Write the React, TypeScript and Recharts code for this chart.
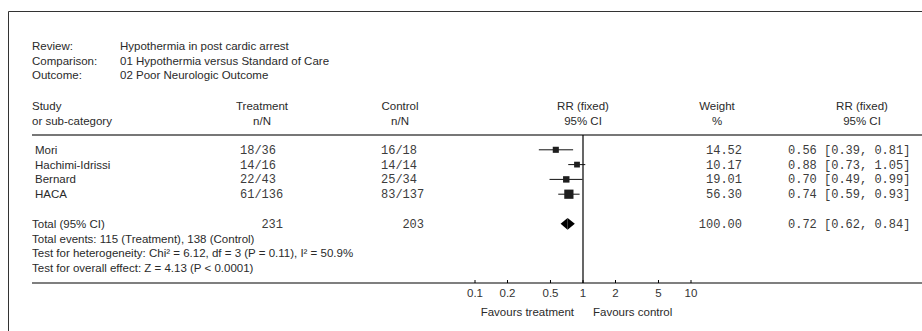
import {
  ComposedChart,
  ErrorBar,
  ReferenceArea,
  ReferenceLine,
  Scatter,
  XAxis,
  YAxis,
} from 'recharts'

const SANS = '"Liberation Sans", Arial, sans-serif'
const MONO = '"Liberation Mono", "Courier New", monospace'
const TEXT = '#2a2a2a'
const MONO_TEXT = '#3c3c3c'
const FS = 11.5

// study level data (RevMan output)
const studies = ['Mori', 'Hachimi-Idrissi', 'Bernard', 'HACA']
const treatmentEvents = [18, 14, 22, 61]
const treatmentTotals = [36, 16, 43, 136]
const controlEvents = [16, 14, 25, 83]
const controlTotals = [18, 14, 34, 137]
const weights = [14.52, 10.17, 19.01, 56.3]
const riskRatios = [0.56, 0.88, 0.7, 0.74]
const ciLower = [0.39, 0.73, 0.49, 0.59]
const ciUpper = [0.81, 1.05, 0.99, 0.93]
const studyRows = [1, 2, 3, 4]

// pooled estimate
const pooledRR = 0.72
const pooledLower = 0.62
const pooledUpper = 0.84
const pooledWeight = 100
const totalRow = 6

const notes = [
  'Total events: 115 (Treatment), 138 (Control)',
  'Test for heterogeneity: Chi² = 6.12, df = 3 (P = 0.11), I² = 50.9%',
  'Test for overall effect: Z = 4.13 (P < 0.0001)',
]
const noteRows = [7, 8, 9]

const xTicks = [0.1, 0.2, 0.5, 1, 2, 5, 10]

// axis spans the full table width, 108px per decade with 1 at x=583
const PX_PER_DECADE = 108
const PLOT_LEFT = 32
const ONE_X = 583
const WIDTH = 922
const HEIGHT = 331
const xDomain = [
  Math.pow(10, (PLOT_LEFT - ONE_X) / PX_PER_DECADE),
  Math.pow(10, (WIDTH - ONE_X) / PX_PER_DECADE),
]

const sum = (a: number[]) => a.reduce((s, v) => s + v, 0)
const fmtCI = (rr: number, lo: number, hi: number) =>
  `${rr.toFixed(2)} [${lo.toFixed(2)}, ${hi.toFixed(2)}]`

const forestData = studies.map((name, i) => ({
  name,
  x: riskRatios[i],
  row: studyRows[i],
  weight: weights[i],
  err: [riskRatios[i] - ciLower[i], ciUpper[i] - riskRatios[i]],
}))

const tableData = [
  ...studies.map((name, i) => ({
    kind: 'study',
    x: 1,
    row: studyRows[i],
    label: name,
    treat: `${treatmentEvents[i]}/${treatmentTotals[i]}`,
    ctrl: `${controlEvents[i]}/${controlTotals[i]}`,
    weight: weights[i].toFixed(2),
    ci: fmtCI(riskRatios[i], ciLower[i], ciUpper[i]),
  })),
  {
    kind: 'total',
    x: 1,
    row: totalRow,
    label: 'Total (95% CI)',
    treat: String(sum(treatmentTotals)),
    ctrl: String(sum(controlTotals)),
    weight: pooledWeight.toFixed(2),
    ci: fmtCI(pooledRR, pooledLower, pooledUpper),
  },
  ...notes.map((label, i) => ({ kind: 'note', x: 1, row: noteRows[i], label })),
]

const TableRow = (props: any) => {
  const { cy, payload } = props
  const y = cy + 4
  if (payload.kind === 'note') {
    return (
      <text x={32} y={y} fontFamily={SANS} fontSize={FS} fill={TEXT}>
        {payload.label}
      </text>
    )
  }
  const total = payload.kind === 'total'
  return (
    <g>
      <text x={total ? 32 : 35} y={y} fontFamily={SANS} fontSize={FS} fill={TEXT}>
        {payload.label}
      </text>
      <g fontFamily={MONO} fontSize={12} fill={MONO_TEXT}>
        <text x={total ? 283 : 240} y={y} textAnchor={total ? 'end' : 'start'}>
          {payload.treat}
        </text>
        <text x={total ? 424 : 381} y={y} textAnchor={total ? 'end' : 'start'}>
          {payload.ctrl}
        </text>
        <text x={742} y={y} textAnchor="end">
          {payload.weight}
        </text>
        <text x={788} y={y}>{payload.ci}</text>
      </g>
    </g>
  )
}

const StudySquare = (props: any) => {
  const { cx, cy, payload } = props
  const side = 5 + payload.weight * 0.075
  return <rect x={cx - side / 2} y={cy - side / 2} width={side} height={side} fill="#1e1e1e" />
}

const LeftHalf = (props: any) => {
  const { x, y, width, height } = props
  return <polygon points={`${x},${y + height / 2} ${x + width},${y} ${x + width},${y + height}`} fill="#000" />
}

const RightHalf = (props: any) => {
  const { x, y, width, height } = props
  return <polygon points={`${x},${y} ${x + width},${y + height / 2} ${x},${y + height}`} fill="#000" />
}

const AxisTick = (props: any) => {
  const { x, y, payload } = props
  return (
    <g>
      <line x1={x} x2={x} y1={y - 3} y2={y} stroke="#000" />
      <text x={x} y={y + 14} textAnchor="middle" fontFamily={SANS} fontSize={FS} fill="#333">
        {payload.value}
      </text>
    </g>
  )
}

const Header = () => (
  <svg
    width={WIDTH}
    height={HEIGHT}
    style={{ position: 'absolute', left: 0, top: 0, pointerEvents: 'none' }}
    fontFamily={SANS}
    fontSize={FS}
    fill={TEXT}
  >
    <line x1={8.5} y1={11.5} x2={WIDTH} y2={11.5} stroke="#333" />
    <line x1={8.5} y1={11.5} x2={8.5} y2={HEIGHT} stroke="#333" />
    <text x={32} y={50}>Review:</text>
    <text x={120} y={50}>Hypothermia in post cardic arrest</text>
    <text x={32} y={64.5}>Comparison:</text>
    <text x={120} y={64.5}>01 Hypothermia versus Standard of Care</text>
    <text x={32} y={79}>Outcome:</text>
    <text x={120} y={79}>02 Poor Neurologic Outcome</text>
    <text x={32} y={110}>Study</text>
    <text x={32} y={124.5}>or sub-category</text>
    <g textAnchor="middle">
      <text x={262} y={110}>Treatment</text>
      <text x={262} y={124.5}>n/N</text>
      <text x={400} y={110}>Control</text>
      <text x={400} y={124.5}>n/N</text>
      <text x={583} y={110}>RR (fixed)</text>
      <text x={583} y={124.5}>95% CI</text>
      <text x={717} y={110}>Weight</text>
      <text x={717} y={124.5}>%</text>
      <text x={862} y={110}>RR (fixed)</text>
      <text x={862} y={124.5}>95% CI</text>
    </g>
    <text x={574} y={316} textAnchor="end">Favours treatment</text>
    <text x={593} y={316}>Favours control</text>
  </svg>
)

export default function App() {
  return (
    <div style={{ position: 'absolute', left: 0, top: 0, width: WIDTH, height: HEIGHT, background: '#fff' }}>
      <ComposedChart width={WIDTH} height={HEIGHT} margin={{ top: 135, right: 0, bottom: 0, left: PLOT_LEFT }}>
        <XAxis
          dataKey="x"
          type="number"
          scale="log"
          domain={xDomain}
          allowDataOverflow
          ticks={xTicks}
          interval={0}
          height={48}
          tickSize={0}
          tickMargin={0}
          tickLine={false}
          tick={AxisTick}
          axisLine={{ stroke: '#000', strokeWidth: 1.2 }}
        />
        <YAxis dataKey="row" type="number" domain={[0, 10]} reversed hide width={0} allowDataOverflow />
        <ReferenceLine y={0} stroke="#777" strokeWidth={2} />
        <ReferenceLine x={1} stroke="#000" strokeWidth={1.2} />
        <Scatter data={tableData} shape={TableRow} isAnimationActive={false} />
        <Scatter data={forestData} shape={StudySquare} isAnimationActive={false}>
          <ErrorBar dataKey="err" direction="x" width={0} stroke="#111" strokeWidth={1} isAnimationActive={false} />
        </Scatter>
        <ReferenceArea x1={pooledLower} x2={pooledRR} y1={totalRow - 0.4} y2={totalRow + 0.4} shape={LeftHalf} />
        <ReferenceArea x1={pooledRR} x2={pooledUpper} y1={totalRow - 0.4} y2={totalRow + 0.4} shape={RightHalf} />
      </ComposedChart>
      <Header />
    </div>
  )
}
